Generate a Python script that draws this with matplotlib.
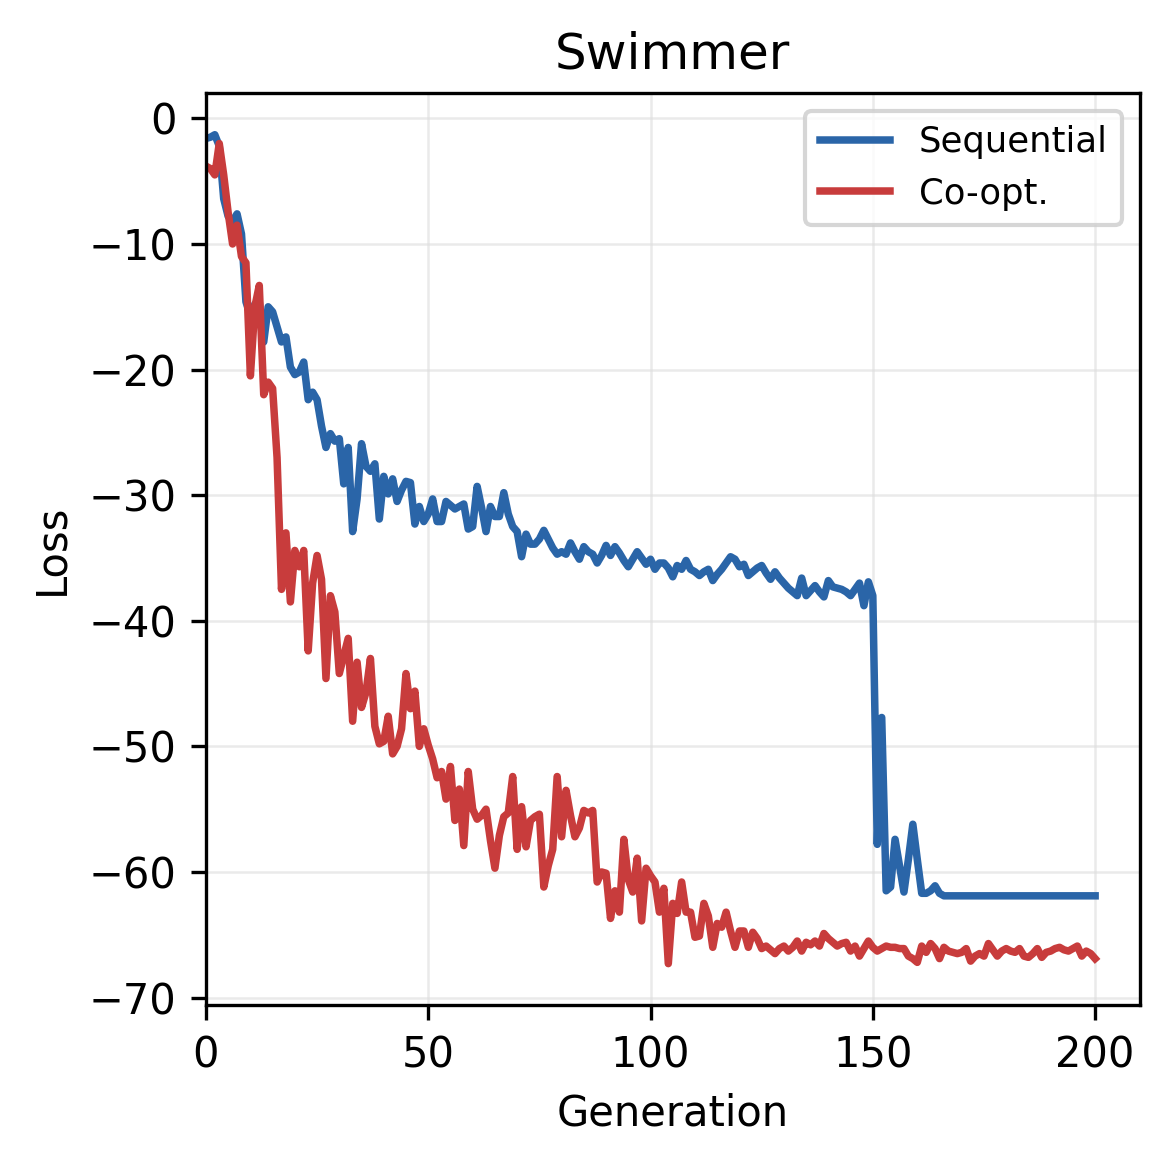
import matplotlib
matplotlib.use("Agg")
import matplotlib.pyplot as plt
import numpy as np

sequential = [
    -1.6, -1.5, -1.3, -2.2, -6.4, -7.8, -8.2, -7.6, -9.2, -14.6,
    -15.7, -14.8, -14.6, -17.8, -15.0, -15.4, -16.6, -17.8, -17.4, -19.8,
    -20.4, -20.2, -19.4, -22.4, -21.8, -22.4, -24.5, -26.2, -25.1, -25.7,
    -25.5, -29.1, -26.2, -32.9, -30.3, -25.9, -27.7, -28.1, -27.5, -31.9,
    -28.5, -29.9, -28.7, -30.5, -29.6, -28.9, -29.0, -32.3, -30.9, -32.1,
    -31.5, -30.3, -32.1, -32.1, -30.5, -30.8, -31.1, -30.9, -30.7, -32.7,
    -32.5, -29.3, -31.0, -32.9, -30.9, -31.7, -31.7, -29.8, -31.5, -32.5,
    -32.9, -34.9, -33.1, -33.9, -33.9, -33.5, -32.8, -33.5, -34.2, -34.7,
    -34.5, -34.7, -33.8, -34.5, -35.1, -34.1, -34.5, -34.7, -35.4, -34.8,
    -34.0, -34.8, -34.1, -34.6, -35.2, -35.7, -35.1, -34.5, -35.0, -35.5,
    -35.1, -35.9, -35.4, -35.4, -35.8, -36.5, -35.6, -35.9, -35.2, -35.9,
    -36.1, -36.4, -36.1, -35.9, -36.8, -36.3, -35.9, -35.4, -34.9, -35.1,
    -35.7, -35.5, -36.4, -36.1, -35.8, -35.6, -36.2, -36.7, -36.1, -36.6,
    -37.0, -37.4, -37.7, -38.0, -36.6, -38.0, -37.6, -37.2, -37.7, -38.1,
    -36.8, -37.3, -37.4, -37.5, -37.7, -38.0, -37.5, -37.0, -38.8, -36.9,
    -38.0, -57.8, -47.7, -61.5, -61.2, -57.4, -59.5, -61.6, -59.0, -56.2,
    -59.0, -61.7, -61.7, -61.5, -61.1, -61.7, -61.9, -61.9, -61.9, -61.9,
    -61.9, -61.9, -61.9, -61.9, -61.9, -61.9, -61.9, -61.9, -61.9, -61.9,
    -61.9, -61.9, -61.9, -61.9, -61.9, -61.9, -61.9, -61.9, -61.9, -61.9,
    -61.9, -61.9, -61.9, -61.9, -61.9, -61.9, -61.9, -61.9, -61.9, -61.9,
    -61.9,
]

coopt = [
    -3.8, -4.0, -4.5, -2.0, -4.5, -7.5, -10.0, -8.5, -11.0, -11.5,
    -20.5, -15.0, -13.3, -22.0, -21.0, -21.5, -27.0, -37.5, -33.0, -38.5,
    -34.4, -35.7, -34.4, -42.4, -37.0, -34.8, -36.7, -44.6, -38.0, -39.3,
    -44.2, -42.8, -41.4, -48.0, -43.3, -46.9, -45.7, -43.0, -48.4, -49.8,
    -49.6, -47.6, -50.6, -50.0, -48.6, -44.2, -47.0, -45.6, -50.0, -48.6,
    -49.9, -51.0, -52.5, -52.0, -54.2, -51.6, -55.9, -53.4, -57.9, -52.0,
    -55.0, -55.8, -55.5, -55.0, -57.5, -59.7, -57.1, -55.6, -55.3, -52.4,
    -58.2, -54.8, -58.0, -55.9, -55.6, -55.4, -61.2, -59.5, -58.2, -52.4,
    -57.2, -53.5, -55.5, -57.2, -56.5, -55.1, -55.3, -55.1, -60.8, -60.0,
    -60.1, -63.7, -61.5, -63.2, -57.4, -60.6, -61.6, -58.9, -63.9, -59.7,
    -60.3, -60.8, -63.2, -61.3, -67.3, -62.5, -63.3, -60.8, -63.2, -63.2,
    -65.2, -65.1, -62.5, -63.5, -66.0, -64.1, -64.4, -63.2, -64.7, -66.0,
    -64.7, -64.7, -66.0, -64.8, -65.3, -66.1, -65.9, -66.2, -66.5, -66.1,
    -65.9, -66.3, -66.0, -65.5, -66.3, -65.6, -65.8, -65.5, -65.9, -64.9,
    -65.3, -65.6, -65.9, -65.7, -65.6, -66.3, -65.9, -66.7, -66.1, -65.5,
    -66.0, -66.3, -66.1, -65.9, -66.0, -66.0, -66.1, -66.1, -66.7, -66.9,
    -67.2, -65.9, -66.4, -65.7, -66.1, -66.9, -66.0, -66.3, -66.4, -66.5,
    -66.4, -66.1, -67.1, -66.7, -66.5, -66.7, -65.7, -66.2, -66.7, -66.3,
    -66.1, -66.3, -66.4, -66.1, -66.7, -66.8, -66.5, -66.1, -66.8, -66.4,
    -66.3, -66.1, -66.0, -66.2, -66.3, -66.1, -65.9, -66.7, -66.3, -66.5,
    -66.9,
]

generations = np.arange(len(sequential))
gen_co = np.arange(len(coopt))

fig = plt.figure(figsize=(3.9, 3.8867), dpi=300)
ax = fig.add_axes([0.176, 0.138, 0.798, 0.782])

ax.plot(generations, sequential, color="#2a65a8", lw=1.8, label="Sequential")
ax.plot(gen_co, coopt, color="#c83c3c", lw=1.8, label="Co-opt.")

ax.set_xlim(left=0, right=210)
ax.grid(True, color="#dddddd", alpha=0.6, lw=0.6)
ax.set_xticks([0, 50, 100, 150, 200])
ax.set_yticks([0, -10, -20, -30, -40, -50, -60, -70])
ax.tick_params(labelsize=10, width=0.8, length=3.5)
for s in ax.spines.values():
    s.set_linewidth(0.8)

ax.set_title("Swimmer", fontsize=12)
ax.set_xlabel("Generation", fontsize=10)
ax.set_ylabel("Loss", fontsize=10)
ax.legend(loc="upper right", fontsize=8.5, framealpha=0.8)

fig.savefig("out.png", dpi=300)
